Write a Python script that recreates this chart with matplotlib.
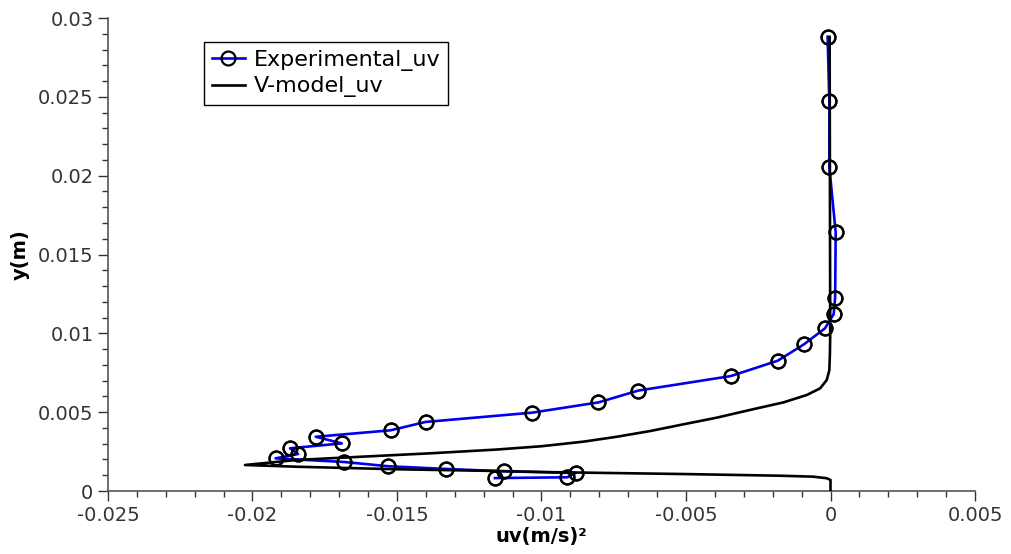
import numpy as np
import matplotlib.pyplot as plt
from matplotlib.ticker import MultipleLocator

# experimental uv profile, ordered from top to wall
exp_uv = [-0.0001, -0.00004, -0.00004, 0.00018, 0.00016, 0.00011, -0.00019,
          -0.00092, -0.00183, -0.00345, -0.00665, -0.00803, -0.01032, -0.01401,
          -0.01522, -0.01781, -0.01691, -0.01870, -0.01842, -0.01920, -0.01682,
          -0.01530, -0.01330, -0.01131, -0.00882, -0.00911, -0.01161]
exp_y = [0.02881, 0.02471, 0.02053, 0.01640, 0.01226, 0.01122, 0.01032,
         0.00930, 0.00826, 0.00729, 0.00637, 0.00562, 0.00497, 0.00438,
         0.00385, 0.00344, 0.00302, 0.00271, 0.00235, 0.00207, 0.00184,
         0.00157, 0.00140, 0.00125, 0.00114, 0.00087, 0.00082]

# V-model uv profile, from the wall upward
mod_uv = [0.0, 0.0, -0.00013, -0.0006, -0.00175, -0.00521, -0.00947, -0.01155,
          -0.01501, -0.01847, -0.02026, -0.01847, -0.01617, -0.01386, -0.01155,
          -0.0100, -0.00855, -0.00740, -0.00625, -0.00509, -0.00394, -0.00279,
          -0.00163, -0.00082, -0.00036, -0.00013, -0.00004, -0.00002, -0.00001,
          -0.00003]
mod_y = [0.0, 0.0007, 0.00081, 0.00091, 0.00097, 0.00108, 0.00119, 0.00127,
         0.00138, 0.00154, 0.00165, 0.00197, 0.00218, 0.00239, 0.00263,
         0.00284, 0.00313, 0.00344, 0.00380, 0.00423, 0.00465, 0.00514,
         0.00562, 0.00609, 0.00651, 0.00704, 0.00767, 0.00873, 0.0100,
         0.0288]

plt.rcParams['font.family'] = ['DejaVu Sans']

fig = plt.figure(figsize=(10.11, 5.54), dpi=100)
ax = fig.add_axes([0.1068, 0.1137, 0.8576, 0.8538])

h1, = ax.plot(exp_uv, exp_y, color='#0000ee', lw=1.9, marker='o', ms=10,
              mfc='none', mec='black', mew=1.6, zorder=2, label='Experimental_uv')
h2, = ax.plot(mod_uv, mod_y, color='black', lw=1.9, zorder=3, label='V-model_uv')
ax.plot(exp_uv, exp_y, ls='none', marker='o', ms=10, mfc='none', mec='black',
        mew=1.6, zorder=4)

ax.set_xlim(-0.025, 0.005)
ax.set_ylim(0, 0.03)
ax.xaxis.set_major_locator(MultipleLocator(0.005))
ax.xaxis.set_minor_locator(MultipleLocator(0.001))
ax.yaxis.set_major_locator(MultipleLocator(0.005))
ax.yaxis.set_minor_locator(MultipleLocator(0.001))

def fmt(v, pos):
    if abs(v) < 1e-12:
        return '0'
    return ('%.3f' % v).rstrip('0')

ax.xaxis.set_major_formatter(plt.FuncFormatter(fmt))
ax.yaxis.set_major_formatter(plt.FuncFormatter(fmt))

for side in ['top', 'right']:
    ax.spines[side].set_visible(False)
for side in ['left', 'bottom']:
    ax.spines[side].set_color('#555555')
    ax.spines[side].set_linewidth(1.2)

ax.tick_params(which='major', direction='out', length=7, width=1,
               color='#333333', labelsize=14, labelcolor='#333333')
ax.tick_params(which='minor', direction='out', length=4, width=1,
               color='#333333')

ax.set_xlabel('uv(m/s)²', fontsize=14, fontweight='bold', labelpad=2)
ax.set_ylabel('y(m)', fontsize=14, fontweight='bold', labelpad=6)

leg = ax.legend(handles=[h1, h2], loc='upper left', bbox_to_anchor=(0.1107, 0.949),
                borderaxespad=0, fontsize=16, fancybox=False, framealpha=1,
                edgecolor='black', handlelength=1.5, borderpad=0.35,
                labelspacing=0.25, handletextpad=0.4)
leg.get_frame().set_linewidth(1.0)

fig.savefig('out.png', dpi=100)
